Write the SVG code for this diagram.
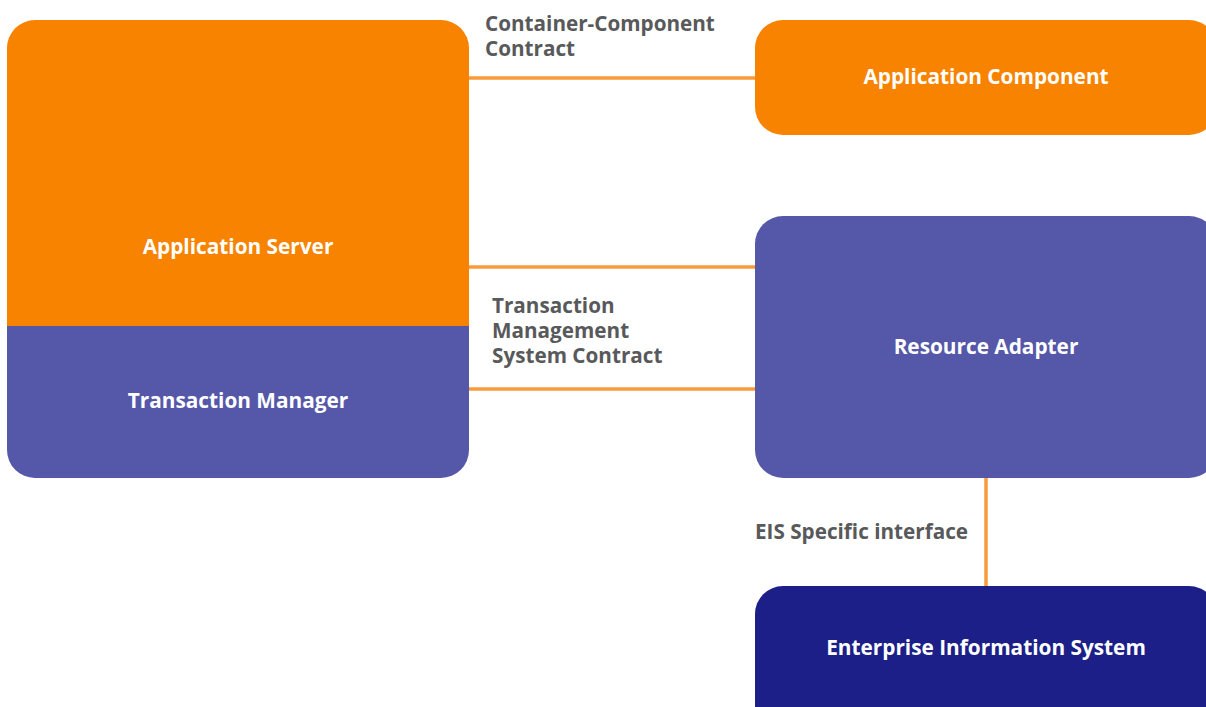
<svg xmlns="http://www.w3.org/2000/svg" width="1206" height="707" viewBox="0 0 1206 707">
  <style>
    .node-text { font-family: "Open Sans", "Noto Sans", "Liberation Sans", sans-serif; font-weight: 700; font-size: 20.8px; fill: #ffffff; text-anchor: middle; dominant-baseline: central; }
    .label { font-family: "Open Sans", "Noto Sans", "Liberation Sans", sans-serif; font-weight: 700; font-size: 20.7px; fill: #58595b; }
    .orange { fill: #f88300; }
    .purple { fill: #5558a8; }
    .navy { fill: #1c1f87; }
    .link { stroke: #f99b3b; stroke-width: 3.5; fill: none; }
  </style>
  <defs>
    <clipPath id="serverClip">
      <rect x="7" y="20" width="462" height="458" rx="28" ry="28"/>
    </clipPath>
  </defs>

  <rect width="1206" height="707" fill="#ffffff"/>

  <!-- connectors -->
  <g id="connectors">
    <line class="link" x1="469" y1="78" x2="756" y2="78"/>
    <line class="link" x1="469" y1="267" x2="756" y2="267"/>
    <line class="link" x1="469" y1="389" x2="756" y2="389"/>
    <line class="link" x1="986" y1="477" x2="986" y2="588"/>
  </g>

  <!-- application server with embedded transaction manager -->
  <g id="application-server">
    <g clip-path="url(#serverClip)">
      <rect class="orange" x="7" y="20" width="462" height="306"/>
      <rect class="purple" x="7" y="326" width="462" height="152"/>
    </g>
    <text class="node-text" x="238" y="246">Application Server</text>
  </g>
  <g id="transaction-manager">
    <text class="node-text" x="238" y="400">Transaction Manager</text>
  </g>

  <g id="application-component">
    <rect class="orange" x="755" y="20" width="462" height="115" rx="28" ry="28"/>
    <text class="node-text" x="986" y="76">Application Component</text>
  </g>

  <g id="resource-adapter">
    <rect class="purple" x="755" y="216" width="462" height="262" rx="28" ry="28"/>
    <text class="node-text" x="986" y="346">Resource Adapter</text>
  </g>

  <g id="enterprise-information-system">
    <rect class="navy" x="755" y="586" width="462" height="150" rx="28" ry="28"/>
    <text class="node-text" x="986" y="647">Enterprise Information System</text>
  </g>

  <!-- contract labels (multi-line labels as one text block each) -->
  <g id="labels">
    <text class="label" x="485" y="31">Container-Component<tspan x="485" dy="25">Contract</tspan></text>
    <text class="label" x="492" y="313">Transaction<tspan x="492" dy="25">Management</tspan><tspan x="492" dy="25">System Contract</tspan></text>
    <text class="label" x="755" y="539">EIS Specific interface</text>
  </g>
</svg>
